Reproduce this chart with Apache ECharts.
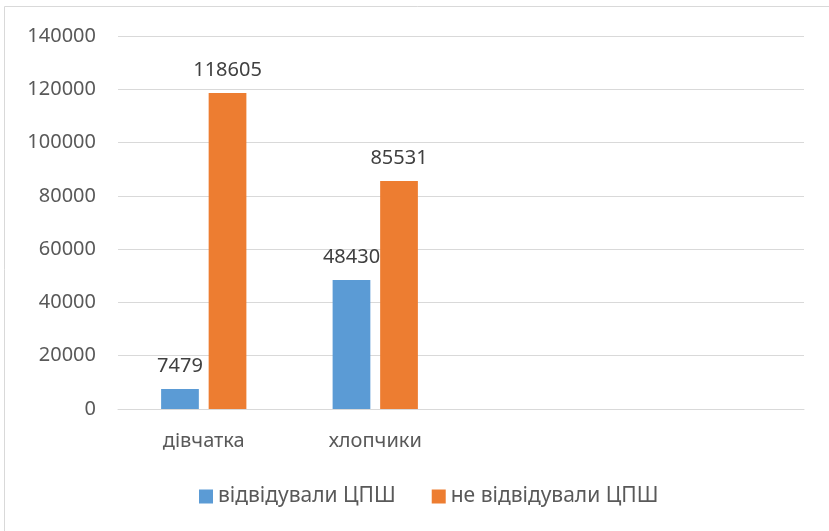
<!DOCTYPE html>
<html>
<head>
<meta charset="utf-8">
<script src="https://cdn.jsdelivr.net/npm/echarts@6/dist/echarts.min.js"></script>
<style>
  html, body { margin: 0; padding: 0; background: #fff; }
  #chart { width: 829px; height: 531px; }
</style>
</head>
<body>
<div id="chart"></div>
<script>
// categories (two empty slots on the right, as in the original)
const categories = ['дівчатка', 'хлопчики', '', ''];
const attended = [7479, 48430, null, null];
const notAttended = [118605, 85531, null, null];
const seriesNames = ['відвідували ЦПШ', 'не відвідували ЦПШ'];

const font = 'Noto Sans';

const chart = echarts.init(document.getElementById('chart'), null, { renderer: 'canvas' });

const labelStyle = {
  show: true,
  position: 'top',
  distance: 13,
  color: '#404040',
  fontSize: 20,
  fontFamily: font
};

chart.setOption({
  animation: false,
  textStyle: { fontFamily: font },
  graphic: [
    {
      type: 'rect',
      shape: { x: 4.5, y: 6.5, width: 900, height: 600 },
      style: { fill: 'none', stroke: '#d9d9d9', lineWidth: 1 },
      silent: true
    }
  ],
  grid: { left: 118, right: 25, top: 36, bottom: 122 },
  xAxis: {
    type: 'category',
    data: categories,
    axisLine: { lineStyle: { color: '#d9d9d9', width: 1 } },
    axisTick: { show: false },
    axisLabel: { color: '#595959', fontSize: 20, fontFamily: font, margin: 22 }
  },
  yAxis: {
    type: 'value',
    min: 0,
    max: 140000,
    interval: 20000,
    axisLine: { show: false },
    axisTick: { show: false },
    axisLabel: {
      color: '#595959', fontSize: 20, fontFamily: font, margin: 22,
      formatter: v => String(v)
    },
    splitLine: { lineStyle: { color: '#d9d9d9', width: 1 } }
  },
  legend: {
    left: 194,
    top: 481,
    itemWidth: 14,
    itemHeight: 14,
    itemGap: 36,
    icon: 'rect',
    textStyle: { color: '#595959', fontSize: 21, fontFamily: font },
    data: seriesNames
  },
  series: [
    {
      name: seriesNames[0],
      type: 'bar',
      data: attended,
      barWidth: '22%',
      barGap: '26%',
      itemStyle: { color: '#5b9bd5' },
      label: labelStyle
    },
    {
      name: seriesNames[1],
      type: 'bar',
      data: notAttended,
      barWidth: '22%',
      itemStyle: { color: '#ed7d31' },
      label: labelStyle
    }
  ]
});
</script>
</body>
</html>
